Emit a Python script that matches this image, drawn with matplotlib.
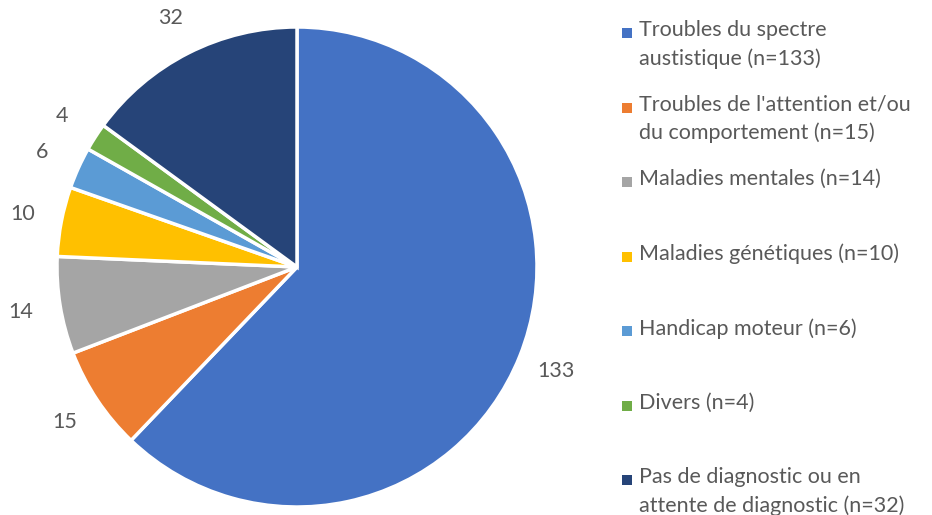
import matplotlib.pyplot as plt
from matplotlib.patches import Rectangle

plt.rcParams['font.family'] = ['Lato', 'DejaVu Sans']

# donnees
categories = [
    "Troubles du spectre\naustistique (n=133)",
    "Troubles de l'attention et/ou\ndu comportement (n=15)",
    "Maladies mentales (n=14)",
    "Maladies génétiques (n=10)",
    "Handicap moteur (n=6)",
    "Divers (n=4)",
    "Pas de diagnostic ou en\nattente de diagnostic (n=32)",
]
values = [133, 15, 14, 10, 6, 4, 32]
colors = ['#4472C4', '#ED7D31', '#A5A5A5', '#FFC000', '#5B9BD5', '#70AD47', '#264478']
TEXT_COLOR = '#595959'

W, H = 932, 515
fig = plt.figure(figsize=(W / 100, H / 100), dpi=100)

# pie: centre ~(297, 267) px, rayon ~240 px
cx, cy, r = 297, 267, 240
ax = fig.add_axes([(cx - r) / W, 1 - (cy + r) / H, 2 * r / W, 2 * r / H])
wedges, texts = ax.pie(
    values, labels=[str(v) for v in values], colors=colors,
    startangle=90, counterclock=False, labeldistance=1.165,
    wedgeprops=dict(edgecolor='white', linewidth=2.5),
    textprops=dict(color=TEXT_COLOR, fontsize=15.5),
)
for t in texts:
    t.set_ha('center')
    t.set_va('center')
ax.set_xlim(-1, 1)
ax.set_ylim(-1, 1)
ax.set_aspect('equal')

# legende dessinee a la main (marqueur sur la premiere ligne)
y0, step = 33, 74.5
for i, (lab, col) in enumerate(zip(categories, colors)):
    y = y0 + i * step
    fig.patches.append(Rectangle((622 / W, 1 - (y + 5) / H), 10 / W, 10 / H,
                                 transform=fig.transFigure, facecolor=col,
                                 edgecolor='none'))
    fig.text(639 / W, 1 - (y - 13) / H, lab, fontsize=15.5, color=TEXT_COLOR,
             va='top', ha='left', linespacing=1.5)

fig.savefig('out.png', dpi=100)
